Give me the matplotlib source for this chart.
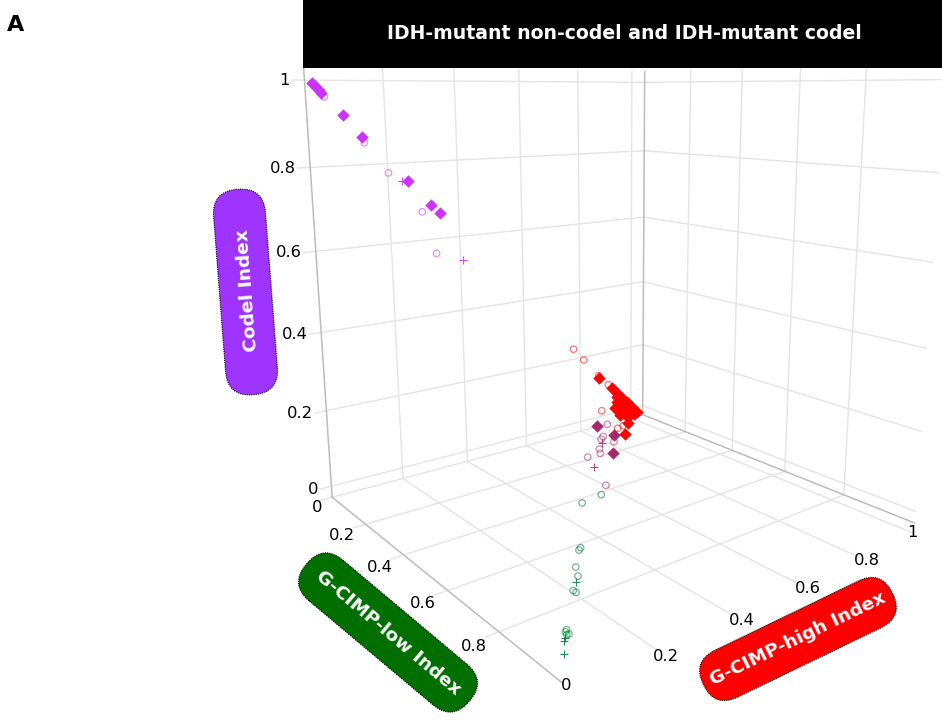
import matplotlib
matplotlib.use("Agg")
import matplotlib.pyplot as plt
from matplotlib.patches import FancyBboxPatch, Rectangle
from matplotlib.transforms import Affine2D, IdentityTransform

W, H = 942, 721

# index values: high = G-CIMP-high, low = G-CIMP-low, codel = Codel
purple_dia_high = [.024, .032, .042, .044, .099, .140, .264, .325, .352]
purple_dia_low = [-.017, -.018, -.020, -.015, -.018, -.006, -.017, -.012, -.017]
purple_dia_codel = [.993, .986, .978, .971, .919, .866, .753, .687, .665]

purple_circ_high = [.052, .137, .185, .262, .237]
purple_circ_low = [-.014, .010, .035, .057, .170]
purple_circ_codel = [.962, .853, .780, .681, .593]

purple_plus_high = [.230, .355]
purple_plus_low = [.014, .092]
purple_plus_codel = [.756, .553]

red_circ_high = [.783, .820, .874, .914, .760, .811, .863, .932]
red_circ_low = [-.010, -.008, -.004, -.007, .156, .166, .128, .070]
red_circ_codel = [.227, .188, .130, .093, .084, .023, .009, -.002]

red_dia_high = [.870, .846, .871, .882, .927, .951, .972, .997, 1.018, 1.044, .920, .945, .969,
                .935, .960, .985, 1.005, .930, .900, .905, .910, .950]
red_dia_low = [.004, .158, .080, .090, -.006, -.010, -.010, -.016, -.016, -.020, .033, .033, .028,
               .012, .010, .000, .010, .060, .060, .100, .040, .050]
red_dia_codel = [.126, -.004, .049, .028, .079, .059, .038, .019, -.002, -.024, .047, .022, .003,
                 .053, .030, .015, -.015, .010, .040, .000, .050, .000]

maroon_dia_high = [.676, .760, .687]
maroon_dia_low = [.243, .212, .297]
maroon_dia_codel = [.081, .028, .016]

maroon_circ_high = [.750, .679, .657, .614, .606, .520, .735, .545]
maroon_circ_low = [.194, .265, .284, .331, .345, .403, .243, .446]
maroon_circ_codel = [.056, .056, .059, .055, .049, .077, .022, .009]

maroon_plus_high = [.530, .648]
maroon_plus_low = [.418, .298]
maroon_plus_codel = [.052, .054]

green_circ_high = [.493, .373, .269, .257, .211, .203, .159, .167, .073, .066, .075, .066]
green_circ_low = [.493, .574, .706, .716, .766, .784, .827, .826, .922, .928, .927, .932]
green_circ_codel = [.014, .053, .025, .027, .023, .013, .014, .007, .005, .006, -.002, .002]

green_plus_high = [.185, .056, .049, .029]
green_plus_low = [.802, .941, .948, .973]
green_plus_codel = [.013, .003, .003, -.002]

high_ticks = [0, .2, .4, .6, .8, 1]
low_ticks = [0, .2, .4, .6, .8]
codel_ticks = [0, .2, .4, .6, .8, 1]
high_labels = ["0", "0.2", "0.4", "0.6", "0.8", "1"]
low_labels = ["0", "0.2", "0.4", "0.6", "0.8"]
codel_labels = ["0", "0.2", "0.4", "0.6", "0.8", "1"]

high_lim = (0, 1.05)
low_lim = (0, 1.03)
codel_lim = (-0.03, 1.03)

# camera found by fitting the box corners of the picture
ELEV, AZIM, ROLL, FOCAL, SIDE, CX, CY, ZASP = 12.2, -38.531, -0.005, 0.24, 747.531, 606.822, 309.608, 1.033

GRID = "#e4e4e4"
EDGE = "#bcbcbc"
PURPLE = "#cc33ff"
RED = "#ff0000"
MAROON = "#a8286e"
GREEN = "#007a30"

plt.rcParams["font.family"] = "DejaVu Sans"
fig = plt.figure(figsize=(W / 100, H / 100), dpi=100, facecolor="white")
ax = fig.add_axes([0, 0, 1, 1], projection="3d", computed_zorder=False)
ax.set_xlim(*low_lim)
ax.set_ylim(*high_lim)
ax.set_zlim(*codel_lim)
ax.view_init(ELEV, AZIM, ROLL)
ax.set_proj_type("persp", focal_length=FOCAL)
ax.set_box_aspect((1, 1, ZASP))
ax.set_position([(CX - SIDE / 2) / W, 1 - (CY + SIDE / 2) / H, SIDE / W, SIDE / H])
ax.set_xticks([])
ax.set_yticks([])
ax.set_zticks([])
ax.set_axis_off()
ax.patch.set_alpha(0)


def seg(p, q, color=GRID, lw=1.0):
    ax.plot([p[0], q[0]], [p[1], q[1]], [p[2], q[2]], color=color, lw=lw, zorder=1, clip_on=False)


l0, l1 = low_lim
h0, h1 = high_lim
c0, c1 = codel_lim
TICK = 0.03
LOW_END = 1.01

# floor
for t in high_ticks[1:]:
    seg((l0, t, c0), (LOW_END + TICK, t, c0))
for t in low_ticks:
    seg((t, h0 - TICK, c0), (t, h1, c0))
# back walls
for t in codel_ticks:
    seg((l0, h0 - TICK, t), (l0, h1, t))
    seg((l0, h1, t), (LOW_END, h1, t))
for t in high_ticks[1:]:
    seg((l0, t, c0), (l0, t, c1))
for t in low_ticks[1:]:
    seg((t, h1, c0), (t, h1, c1))
# darker box edges
seg((l0, h0, c0), (LOW_END, h0, c0), EDGE, 1.1)
seg((l0, h0, c0), (l0, h0, c1), EDGE, 1.1)
seg((l0, h1, c0), (LOW_END, h1, c0), EDGE, 1.1)
seg((l0, h1, c0), (l0, h1, c1), EDGE, 1.1)


def circles(low, high, codel, color, z):
    ax.scatter(low, high, codel, marker="o", s=22, facecolors="none", edgecolors=color,
               linewidths=0.9, alpha=0.55, depthshade=False, zorder=z, clip_on=False)


def plusses(low, high, codel, color, z):
    ax.scatter(low, high, codel, marker="+", s=28, c=color, linewidths=0.8, alpha=0.85,
               depthshade=False, zorder=z, clip_on=False)


def diamonds(low, high, codel, color, z):
    ax.scatter(low, high, codel, marker="D", s=40, c=color, linewidths=0,
               depthshade=False, zorder=z, clip_on=False)


circles(green_circ_low, green_circ_high, green_circ_codel, GREEN, 3)
plusses(green_plus_low, green_plus_high, green_plus_codel, GREEN, 3)
circles(maroon_circ_low, maroon_circ_high, maroon_circ_codel, MAROON, 3)
plusses(maroon_plus_low, maroon_plus_high, maroon_plus_codel, MAROON, 3)
circles(purple_circ_low, purple_circ_high, purple_circ_codel, PURPLE, 3)
plusses(purple_plus_low, purple_plus_high, purple_plus_codel, PURPLE, 3)
diamonds(maroon_dia_low, maroon_dia_high, maroon_dia_codel, MAROON, 4)
diamonds(purple_dia_low, purple_dia_high, purple_dia_codel, PURPLE, 4)
circles(red_circ_low, red_circ_high, red_circ_codel, RED, 5)
diamonds(red_dia_low, red_dia_high, red_dia_codel, RED, 6)

FS = 11.8
high_label_off = [-.01, .03, .03, .03, .03, .01]
for t, s in zip(codel_ticks, codel_labels):
    ax.text(l0, h0 - 0.035, t, s, fontsize=FS, ha="right", va="center", color="black")
for t, s in zip(low_ticks, low_labels):
    ax.text(t, h0 - 0.028, c0 - 0.02, s, fontsize=FS, ha="right", va="center", color="black")
for t, s, off in zip(high_ticks, high_labels, high_label_off):
    ax.text(l1 + off, t, c0, s, fontsize=FS, ha="center", va="center", color="black")

# title banner
fig.add_artist(Rectangle((303, H - 68), W - 303, 68, transform=IdentityTransform(),
                         facecolor="black", edgecolor="none", zorder=5))
fig.text(624 / W, 1 - 33.5 / H, "IDH-mutant non-codel and IDH-mutant codel", color="white",
         fontsize=13.55, fontweight="bold", ha="center", va="center", zorder=6)
fig.text(16 / W, 1 - 25 / H, "A", color="black", fontsize=16, fontweight="bold",
         ha="center", va="center")


def pill(cx, cy, length, thick, angle, color, label, tx=0, ty=0):
    y = H - cy
    tr = Affine2D().rotate_deg_around(cx, y, angle)
    fig.add_artist(FancyBboxPatch((cx - length / 2, y - thick / 2), length, thick,
                                  boxstyle="round,pad=0,rounding_size=%g" % (thick * 0.49),
                                  transform=tr, facecolor=color, edgecolor="black",
                                  linewidth=0.8, linestyle=(0, (1, 1)), zorder=5))
    fig.text((cx + tx) / W, (y - ty) / H, label, color="white", fontsize=13.3, fontweight="bold",
             rotation=angle, rotation_mode="anchor", ha="center", va="center", zorder=6)


pill(245.5, 292, 206, 52, 94.4, "#9f33ff", "Codel Index", tx=1.5, ty=-2)
pill(388, 632.5, 213, 53, -40, "#006f00", "G-CIMP-low Index")
pill(798, 639, 210, 52, 25.8, "#ff0000", "G-CIMP-high Index")

fig.savefig("out.png", dpi=100, facecolor="white")
